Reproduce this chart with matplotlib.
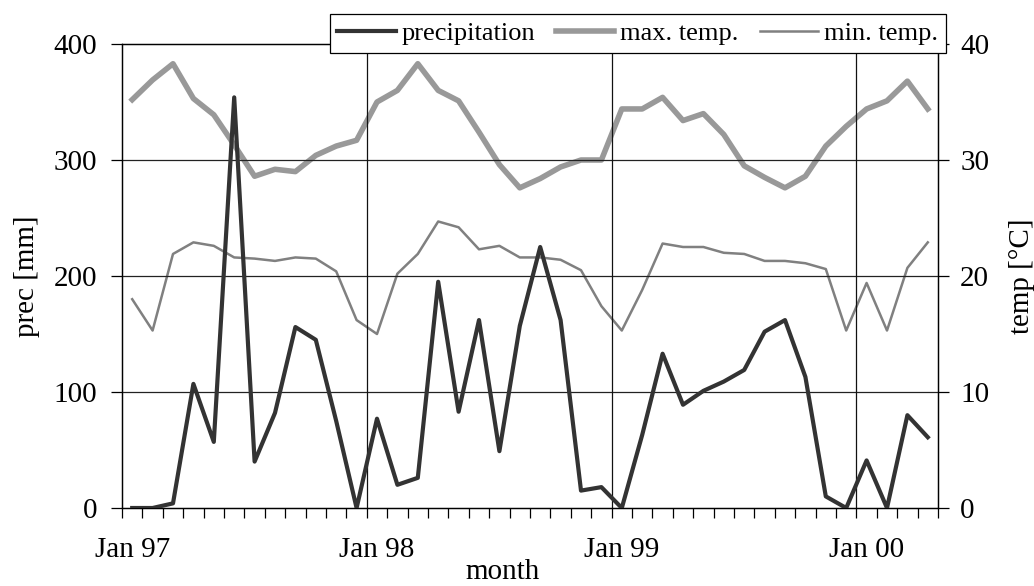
import matplotlib
matplotlib.use("Agg")
import matplotlib.pyplot as plt
from matplotlib.ticker import FixedLocator

# ---- data (monthly, Jan 97 .. Apr 00) ----
precipitation = [0, 0, 4, 107, 57, 354, 40, 82, 156, 145, 75, 0,
                 77, 20, 26, 195, 83, 162, 49, 157, 225, 162, 15, 18,
                 0, 63, 133, 89, 101, 109, 119, 152, 162, 113, 10, 0,
                 41, 0, 80, 61]
max_temp = [35.2, 36.9, 38.3, 35.3, 33.9, 31.3, 28.6, 29.2, 29.0, 30.4, 31.2, 31.7,
            35.0, 36.0, 38.3, 36.0, 35.1, 32.4, 29.6, 27.6, 28.4, 29.4, 30.0, 30.0,
            34.4, 34.4, 35.4, 33.4, 34.0, 32.2, 29.5, 28.5, 27.6, 28.6, 31.2, 32.9,
            34.4, 35.1, 36.8, 34.4]
min_temp = [18.0, 15.3, 21.9, 22.9, 22.6, 21.6, 21.5, 21.3, 21.6, 21.5, 20.4, 16.2,
            15.0, 20.2, 21.9, 24.7, 24.2, 22.3, 22.6, 21.6, 21.6, 21.4, 20.5, 17.4,
            15.3, 18.8, 22.8, 22.5, 22.5, 22.0, 21.9, 21.3, 21.3, 21.1, 20.6, 15.3,
            19.4, 15.3, 20.7, 22.9]
year_labels = ["Jan 97", "Jan 98", "Jan 99", "Jan 00"]

n = len(precipitation)
months = [i + 0.5 for i in range(n)]
year_starts = [12 * k for k in range(len(year_labels))]

plt.rcParams['font.family'] = ['Liberation Serif', 'DejaVu Serif']
plt.rcParams['font.size'] = 21

fig = plt.figure(figsize=(10.34, 5.86), dpi=100)
ax = fig.add_axes([122/1034, 1 - 508/586, (938-122)/1034, (508-44)/586])
ax2 = ax.twinx()

# grid
for v in [100, 200, 300]:
    ax.axhline(v, color='#222222', lw=0.9, zorder=0)
for x in year_starts[1:]:
    ax.axvline(x, color='#111111', lw=0.9, zorder=0)

l1, = ax.plot(months, precipitation, color='#333333', lw=3.0, label='precipitation',
              zorder=3)
l2, = ax2.plot(months, max_temp, color='#999999', lw=4.0, label='max. temp.', zorder=2)
l3, = ax2.plot(months, min_temp, color='#808080', lw=1.8, label='min. temp.', zorder=2)
ax2.set_zorder(ax.get_zorder() - 1)
ax.patch.set_visible(False)

ax.set_xlim(0, 40)
ax.set_ylim(0, 400)
ax2.set_ylim(0, 40)
ax.set_yticks([0, 100, 200, 300, 400])
ax2.set_yticks([0, 10, 20, 30, 40])

ax.xaxis.set_minor_locator(FixedLocator(list(range(0, 41))))
ax.set_xticks([y + 0.5 for y in year_starts])
ax.set_xticklabels(year_labels)
ax.tick_params(axis='x', which='major', length=0, pad=21)
ax.tick_params(axis='x', which='minor', length=7, width=0.9, direction='out')
ax.tick_params(axis='y', length=8, width=0.9, direction='out', pad=10)
ax2.tick_params(axis='y', length=8, width=0.9, direction='out', pad=8)

for a in (ax, ax2):
    for s in a.spines.values():
        s.set_linewidth(0.9)
        s.set_color('black')

ax.set_ylabel('prec [mm]')
ax.yaxis.set_label_coords(-0.101, 0.5)
ax2.set_ylabel('temp [°C]')
ax2.yaxis.set_label_coords(1.087, 0.5)
fig.text(503/1034, 1/586, 'month', ha='center', va='bottom')

leg = fig.legend(handles=[l1, l2, l3], loc='upper right',
                 bbox_to_anchor=(946/1034, 1 - 14/586), ncol=3,
                 frameon=True, fancybox=False, handlelength=2.2,
                 handletextpad=0.23, columnspacing=0.8, borderpad=0.3,
                 borderaxespad=0, fontsize=19)
leg.get_frame().set_edgecolor('black')
leg.get_frame().set_linewidth(0.9)
leg.get_frame().set_alpha(1)

fig.savefig('out.png', dpi=100)
